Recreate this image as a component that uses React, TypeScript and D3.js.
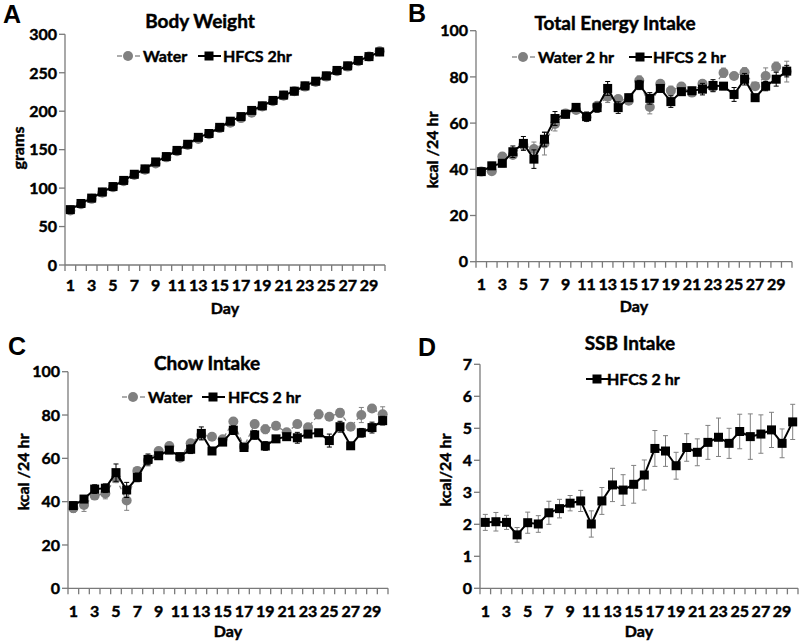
import * as d3 from 'd3';

// ---- data ----
const days = [1, 2, 3, 4, 5, 6, 7, 8, 9, 10, 11, 12, 13, 14, 15, 16, 17, 18, 19, 20, 21, 22, 23, 24, 25, 26, 27, 28, 29, 30];
const dayLabels = [1, 3, 5, 7, 9, 11, 13, 15, 17, 19, 21, 23, 25, 27, 29];

const weightTicks = [0, 50, 100, 150, 200, 250, 300];
const kcalTicks = [0, 20, 40, 60, 80, 100];
const ssbTicks = [0, 1, 2, 3, 4, 5, 6, 7];

const weightWater = [71, 79, 86, 94, 101, 109, 117, 124, 132, 140, 148, 156, 164, 170, 178, 185, 191, 198, 206, 213, 220, 226, 232, 238, 245, 252, 258, 265, 271, 278];
const weightHfcs = [72, 80, 87, 95, 102, 110, 118, 125, 134, 141, 149, 157, 166, 171, 179, 187, 193, 201, 207, 214, 221, 226, 233, 239, 246, 253, 259, 266, 271, 277];
const weightWaterErr = [1, 1, 1, 1, 1, 1, 1, 1, 1, 1, 1, 1, 1, 1, 1, 1, 1, 1, 1, 1, 1, 1, 1, 1, 1, 1, 1, 1, 1, 3];
const weightHfcsErr = [1, 1, 1, 1, 1, 1, 1, 1, 1, 1, 1, 1, 1, 1, 1, 1, 1, 1, 1, 1, 1, 1, 1, 1, 1, 1, 1, 1, 1, 2];

const energyWater = [39, 39.2, 45.5, 46.2, 50.5, 48.8, 51.2, 59.6, 64.2, 65.7, 62.5, 67.5, 71.4, 70.4, 69.7, 78.4, 67, 77, 74, 75.8, 73.2, 77, 75.5, 81.8, 80.4, 82, 76, 80.4, 84.4, 82.3];
const energyHfcs = [39, 41.5, 42.6, 47.6, 51.2, 44.4, 53, 62, 63.8, 66.8, 62.8, 66.7, 75, 66.7, 71, 76.5, 70.7, 75, 69.3, 73.6, 74, 74.7, 76.3, 76, 72.4, 79, 71, 76, 79, 82.5];
const energyWaterErr = [1, 1.5, 1.5, 1.5, 2, 3, 5, 3, 1.5, 1.5, 1.5, 1.5, 2.5, 1.5, 1.5, 2, 3, 1.5, 2, 1.5, 1.5, 1.5, 2, 2, 1.5, 2, 1.5, 3.5, 2, 4.5];
const energyHfcsErr = [1, 1.5, 1.5, 2.5, 3, 4, 3, 3, 1.5, 1.5, 2, 2, 3, 2.5, 1.5, 2, 2.5, 1.5, 2.5, 1.5, 1.5, 2.5, 2.5, 1.5, 3, 2.5, 1.5, 2, 3, 2.5];

const chowWater = [37, 38.5, 42.8, 43.8, 50.8, 40.5, 54.2, 59, 63.4, 65.7, 60.3, 67, 70.8, 70, 68.8, 77, 65.4, 75.8, 73.4, 75, 72, 75.8, 74.3, 80.3, 79.2, 81, 74.6, 80, 83, 80.3];
const chowHfcs = [38.2, 41.2, 45.8, 46.2, 53.4, 45.4, 51.2, 59.5, 61.2, 63.8, 60.8, 64.2, 71.5, 63.4, 67.5, 73, 65, 70.8, 65.7, 69, 70, 69.5, 71.2, 71.8, 68.2, 74.6, 65.8, 71.8, 74.2, 77.4];
const chowWaterErr = [2, 3, 1.5, 2.5, 2, 4.5, 1.5, 2.5, 1.5, 1.5, 1.5, 1.5, 2, 1.5, 1.5, 1.5, 1.5, 1.5, 2, 1.5, 1.5, 1.5, 1.5, 2, 1.5, 2, 1.5, 3.5, 1.5, 3.5];
const chowHfcsErr = [1.5, 1.5, 2, 2, 4, 3.5, 2, 2.5, 1.5, 1.5, 1.5, 2, 3, 1.5, 1.5, 2, 1.5, 2, 2, 1.5, 1.5, 2.5, 1.5, 1.5, 3, 2.5, 1.5, 2, 2.5, 2];

const ssbHfcs = [2.06, 2.08, 2.06, 1.67, 2.05, 2.01, 2.36, 2.49, 2.66, 2.73, 2.01, 2.73, 3.23, 3.07, 3.25, 3.54, 4.37, 4.29, 3.83, 4.4, 4.25, 4.56, 4.72, 4.53, 4.9, 4.74, 4.82, 4.95, 4.53, 5.2];
const ssbHfcsErr = [0.25, 0.29, 0.22, 0.23, 0.33, 0.26, 0.36, 0.29, 0.24, 0.33, 0.41, 0.42, 0.52, 0.48, 0.59, 0.47, 0.56, 0.48, 0.42, 0.43, 0.42, 0.53, 0.6, 0.47, 0.54, 0.71, 0.6, 0.55, 0.45, 0.55];

const FONT = "Lato, 'Open Sans', sans-serif";
const GRAY = '#808080';
const AXIS = '#7a7a7a';

// a hair of stroke makes Lato bold look closer to the heavy Calibri bold of the original
const bold = { fontWeight: 700, stroke: '#000', strokeWidth: 0.45 } as const;

type Series = {
  values: number[];
  err: number[];
  kind: 'water' | 'hfcs';
  errColor: string;
};

type LegendItem = { kind: 'water' | 'hfcs'; label: string; x: number; textX: number };

type PanelProps = {
  letter: string;
  letterX: number;
  letterY: number;
  title: string;
  titleX: number;
  titleY: number;
  left: number;
  right: number;
  top: number;
  bottom: number;
  ticks: number[];
  yTitle: string;
  yTitleX: number;
  yTitleY: number;
  xLabelY: number;
  dayY: number;
  legendY: number;
  legend: LegendItem[];
  series: Series[];
};

function Marker({ kind, cx, cy }: { kind: 'water' | 'hfcs'; cx: number; cy: number }) {
  if (kind === 'water') return <circle cx={cx} cy={cy} r={5} fill={GRAY} />;
  return <rect x={cx - 4.5} y={cy - 4.5} width={9} height={9} fill="#000" />;
}

function Panel(p: PanelProps) {
  const x = d3.scaleBand<number>().domain(days).range([p.left, p.right]).paddingInner(0).paddingOuter(0);
  const y = d3.scaleLinear().domain([p.ticks[0], p.ticks[p.ticks.length - 1]]).range([p.bottom, p.top]);
  const bw = x.bandwidth();
  const cx = (d: number) => (x(d) as number) + bw / 2;
  const line = d3
    .line<number>()
    .x((_, i) => cx(days[i]))
    .y((v) => y(v));
  const tickEdges = [...days.map((d) => x(d) as number), p.right];

  return (
    <g fontFamily={FONT}>
      <text x={p.letterX} y={p.letterY} fontSize={25} fontFamily="'Liberation Sans', Arial, sans-serif" fontWeight={700}>
        {p.letter}
      </text>
      <text x={p.titleX} y={p.titleY} fontSize={19} textAnchor="middle" {...bold}>
        {p.title}
      </text>

      {/* y axis */}
      <line x1={p.left} x2={p.left} y1={p.top} y2={p.bottom} stroke={AXIS} strokeWidth={1.3} />
      {p.ticks.map((t) => (
        <g key={t}>
          <line x1={p.left - 6} x2={p.left} y1={y(t)} y2={y(t)} stroke={AXIS} strokeWidth={1.3} />
          <text x={p.left - 8} y={y(t)} dy="0.36em" fontSize={16} textAnchor="end" {...bold}>
            {t}
          </text>
        </g>
      ))}
      <text
        transform={`translate(${p.yTitleX},${p.yTitleY}) rotate(-90)`}
        fontSize={16}
        textAnchor="middle"
        dy="0.35em"
        {...bold}
      >
        {p.yTitle}
      </text>

      {/* x axis */}
      <line x1={p.left} x2={p.right} y1={p.bottom} y2={p.bottom} stroke={AXIS} strokeWidth={1.3} />
      {tickEdges.map((tx, i) => (
        <line key={i} x1={tx} x2={tx} y1={p.bottom} y2={p.bottom + 6} stroke={AXIS} strokeWidth={1.3} />
      ))}
      {dayLabels.map((d) => (
        <text key={d} x={cx(d)} y={p.xLabelY} fontSize={16} textAnchor="middle" {...bold}>
          {d}
        </text>
      ))}
      <text x={(p.left + p.right) / 2} y={p.dayY} fontSize={16} textAnchor="middle" {...bold}>
        Day
      </text>

      {/* series */}
      {p.series.map((s, si) => (
        <g key={si}>
          {s.values.map((v, i) => (
            <g key={i} stroke={s.errColor} strokeWidth={1}>
              <line x1={cx(days[i])} x2={cx(days[i])} y1={y(v - s.err[i])} y2={y(v + s.err[i])} />
              <line x1={cx(days[i]) - 2.5} x2={cx(days[i]) + 2.5} y1={y(v + s.err[i])} y2={y(v + s.err[i])} />
              <line x1={cx(days[i]) - 2.5} x2={cx(days[i]) + 2.5} y1={y(v - s.err[i])} y2={y(v - s.err[i])} />
            </g>
          ))}
          <path
            d={line(s.values) ?? ''}
            fill="none"
            stroke={s.kind === 'water' ? GRAY : '#000'}
            strokeWidth={s.kind === 'water' ? 1.3 : 2}
            strokeDasharray={s.kind === 'water' ? '4,3' : undefined}
          />
          {s.values.map((v, i) => (
            <Marker key={i} kind={s.kind} cx={cx(days[i])} cy={y(v)} />
          ))}
        </g>
      ))}

      {/* legend */}
      {p.legend.map((l, i) => (
        <g key={i}>
          {l.kind === 'water' ? (
            <g stroke={GRAY} strokeWidth={1.3}>
              <line x1={l.x - 11} x2={l.x - 6} y1={p.legendY} y2={p.legendY} />
              <line x1={l.x + 7} x2={l.x + 12} y1={p.legendY} y2={p.legendY} />
            </g>
          ) : (
            <line x1={l.x - 11} x2={l.x + 12} y1={p.legendY} y2={p.legendY} stroke="#000" strokeWidth={2} />
          )}
          <Marker kind={l.kind} cx={l.x} cy={p.legendY} />
          <text x={l.textX} y={p.legendY} dy="0.36em" fontSize={16} {...bold}>
            {l.label}
          </text>
        </g>
      ))}
    </g>
  );
}

export default function App() {
  return (
    <svg
      width={800}
      height={643}
      viewBox="0 0 800 643"
      style={{ position: 'absolute', left: 0, top: 0, background: '#fff' }}
    >
      <rect width={800} height={643} fill="#fff" />
      <Panel
        letter="A"
        letterX={3}
        letterY={23}
        title="Body Weight"
        titleX={200}
        titleY={28}
        left={65}
        right={385}
        top={34.3}
        bottom={265}
        ticks={weightTicks}
        yTitle="grams"
        yTitleX={18}
        yTitleY={148}
        xLabelY={291}
        dayY={314}
        legendY={56}
        legend={[
          { kind: 'water', label: 'Water', x: 128, textX: 143 },
          { kind: 'hfcs', label: 'HFCS 2hr', x: 209, textX: 223 },
        ]}
        series={[
          { values: weightWater, err: weightWaterErr, kind: 'water', errColor: GRAY },
          { values: weightHfcs, err: weightHfcsErr, kind: 'hfcs', errColor: '#000' },
        ]}
      />
      <Panel
        letter="B"
        letterX={408}
        letterY={22}
        title="Total Energy Intake"
        titleX={615}
        titleY={30}
        left={476}
        right={792}
        top={30.7}
        bottom={261.7}
        ticks={kcalTicks}
        yTitle="kcal /24 hr"
        yTitleX={432}
        yTitleY={150}
        xLabelY={290}
        dayY={312}
        legendY={57}
        legend={[
          { kind: 'water', label: 'Water 2 hr', x: 523, textX: 538 },
          { kind: 'hfcs', label: 'HFCS 2 hr', x: 640, textX: 653 },
        ]}
        series={[
          { values: energyWater, err: energyWaterErr, kind: 'water', errColor: GRAY },
          { values: energyHfcs, err: energyHfcsErr, kind: 'hfcs', errColor: '#000' },
        ]}
      />
      <Panel
        letter="C"
        letterX={8}
        letterY={355}
        title="Chow Intake"
        titleX={207}
        titleY={370}
        left={68}
        right={388}
        top={371.7}
        bottom={588.3}
        ticks={kcalTicks}
        yTitle="kcal /24 hr"
        yTitleX={23}
        yTitleY={472}
        xLabelY={617}
        dayY={637}
        legendY={397}
        legend={[
          { kind: 'water', label: 'Water', x: 133, textX: 148 },
          { kind: 'hfcs', label: 'HFCS 2 hr', x: 213, textX: 228 },
        ]}
        series={[
          { values: chowWater, err: chowWaterErr, kind: 'water', errColor: GRAY },
          { values: chowHfcs, err: chowHfcsErr, kind: 'hfcs', errColor: '#000' },
        ]}
      />
      <Panel
        letter="D"
        letterX={418}
        letterY={356}
        title="SSB Intake"
        titleX={630}
        titleY={350}
        left={480}
        right={798}
        top={364.3}
        bottom={588.3}
        ticks={ssbTicks}
        yTitle="kcal/24 hr"
        yTitleX={445}
        yTitleY={470}
        xLabelY={617}
        dayY={637}
        legendY={379}
        legend={[{ kind: 'hfcs', label: 'HFCS 2 hr', x: 597, textX: 607 }]}
        series={[{ values: ssbHfcs, err: ssbHfcsErr, kind: 'hfcs', errColor: GRAY }]}
      />
    </svg>
  );
}
